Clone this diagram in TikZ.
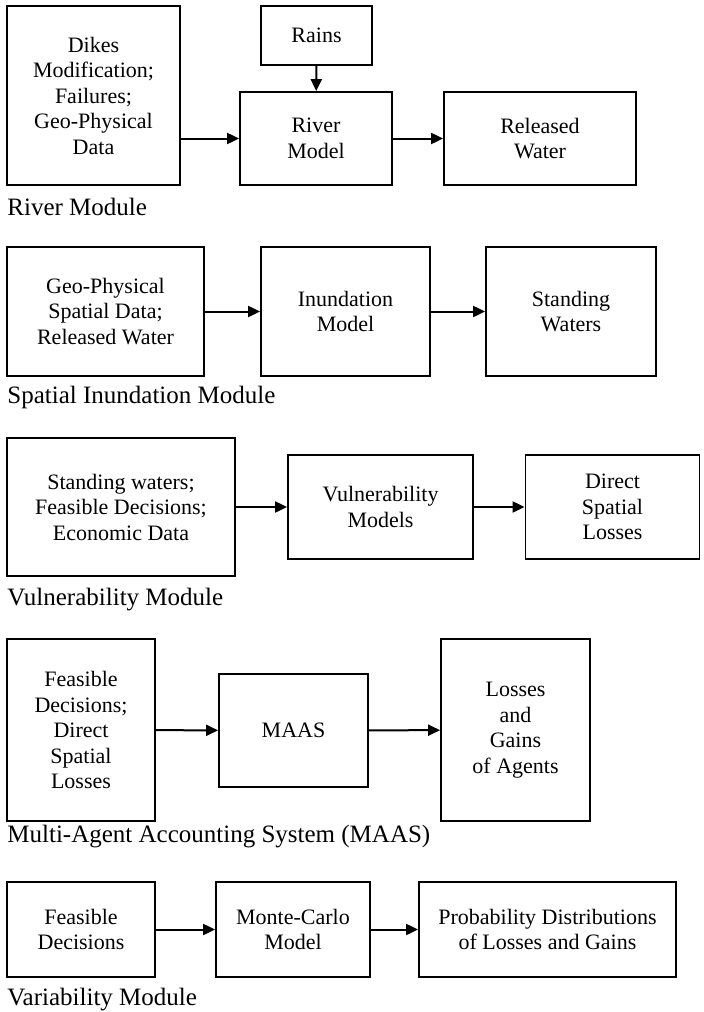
\documentclass[tikz,border=0pt]{standalone}
\usepackage{fontspec}
\setmainfont{Liberation Serif}
\usetikzlibrary{arrows.meta}

\begin{document}
\begin{tikzpicture}[x=0.5pt, y=-0.5pt,
    blk/.style={draw, line width=0.9pt, align=center, inner sep=2pt,
        font=\fontsize{11}{12.75}\selectfont},
    arr/.style={line width=1pt, -{Triangle[length=6pt, width=5.5pt]}},
    lbl/.style={anchor=west, inner sep=0pt, font=\fontsize{12.5}{15}\selectfont}]
    \useasboundingbox (0,0) rectangle (703,1012);

    % River Module
    \node[blk, minimum width=86.5pt, minimum height=89.5pt] (dikes) at (93.5,95.5)
        {Dikes\\Modification;\\Failures;\\Geo-Physical\\Data};
    \node[blk, minimum width=55.5pt, minimum height=29.5pt] (rains) at (316.5,35.5) {Rains};
    \node[blk, minimum width=76pt, minimum height=46.5pt] (river) at (316,138.5) {River\\Model};
    \node[blk, minimum width=96pt, minimum height=46.5pt] (released) at (540,138.5) {Released\\Water};
    \draw[arr] (rains) -- (river);
    \draw[arr] (dikes.east |- river.west) -- (river);
    \draw[arr] (river) -- (released);
    \node[lbl] (riverlbl) at (7,207) {River Module};

    % Spatial Inundation Module
    \node[blk, minimum width=98.5pt, minimum height=64.5pt] (geo) at (105.5,311.5)
        {Geo-Physical\\Spatial Data;\\Released Water};
    \node[blk, minimum width=84.5pt, minimum height=64.5pt] (inund) at (345.5,311.5) {Inundation\\Model};
    \node[blk, minimum width=85pt, minimum height=64.5pt] (standing) at (571,311.5) {Standing\\Waters};
    \draw[arr] (geo) -- (inund);
    \draw[arr] (inund) -- (standing);
    \node[lbl] (inundlbl) at (7,397) {Spatial Inundation Module};

    % Vulnerability Module
    \node[blk, minimum width=114pt, minimum height=69pt] (vulnin) at (121,507)
        {Standing waters;\\Feasible Decisions;\\Economic Data};
    \node[blk, minimum width=92.5pt, minimum height=52pt] (vulnmod) at (380.5,507) {Vulnerability\\Models};
    \node[blk, minimum width=87pt, minimum height=52pt] (direct) at (612.5,507) {Direct\\Spatial\\Losses};
    \draw[arr] (vulnin) -- (vulnmod);
    \draw[arr] (vulnmod) -- (direct);
    \node[lbl] (vulnlbl) at (7,600) {Vulnerability Module};

    % Multi-Agent Accounting System
    \node[blk, minimum width=74pt, minimum height=91pt] (feas) at (81,730)
        {Feasible\\Decisions;\\Direct\\Spatial\\Losses};
    \node[blk, minimum width=74.5pt, minimum height=56.5pt] (maas) at (293.5,730.5) {MAAS};
    \node[blk, minimum width=74.5pt, minimum height=91pt] (gains) at (515.5,730)
        {Losses\\and\\Gains\\of Agents};
    \draw[arr] (feas) -- (maas);
    \draw[arr] (maas) -- (gains);
    \node[lbl] (maaslbl) at (7,837) {Multi-Agent Accounting System (MAAS)};

    % Variability Module
    \node[blk, minimum width=74pt, minimum height=47.5pt] (feasb) at (81,929.5) {Feasible\\Decisions};
    \node[blk, minimum width=77pt, minimum height=47.5pt] (monte) at (293,929.5) {Monte-Carlo\\Model};
    \node[blk, minimum width=128.5pt, minimum height=47.5pt] (prob) at (547.5,929.5)
        {Probability Distributions\\of Losses and Gains};
    \draw[arr] (feasb) -- (monte);
    \draw[arr] (monte) -- (prob);
    \node[lbl] (varlbl) at (7,1000) {Variability Module};
\end{tikzpicture}
\end{document}
